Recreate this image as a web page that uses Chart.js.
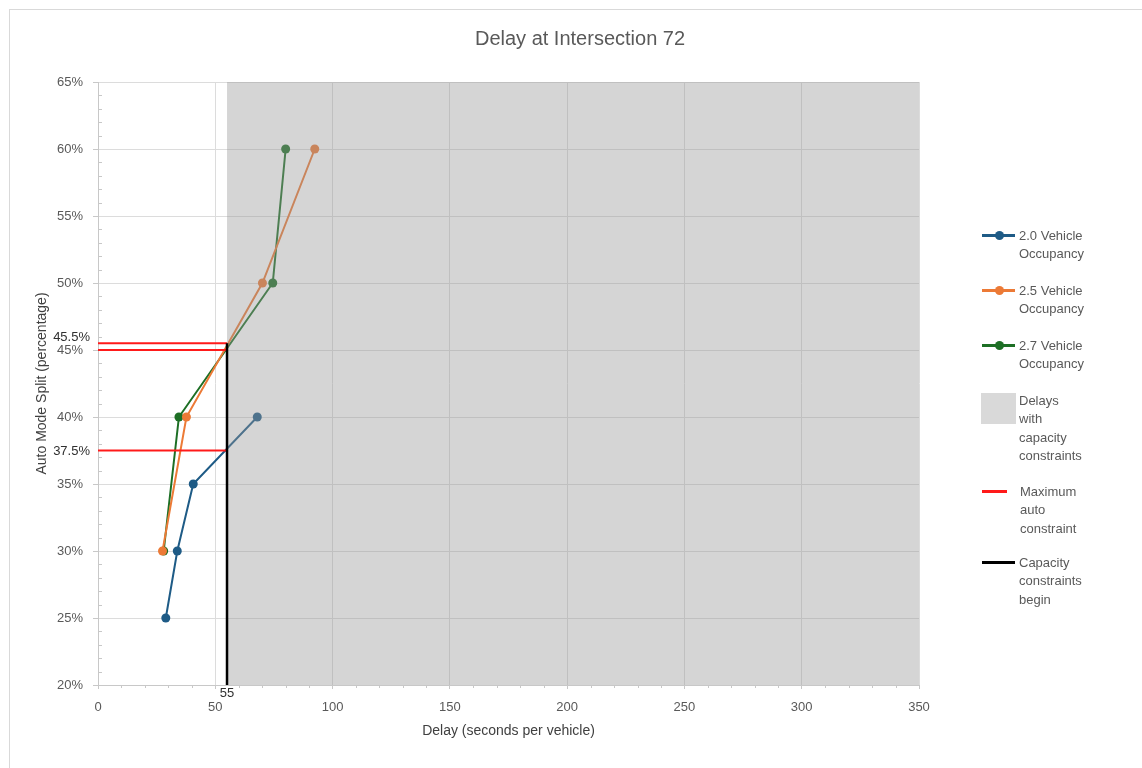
<!DOCTYPE html>
<html>
<head>
<meta charset="utf-8">
<script src="https://cdn.jsdelivr.net/npm/chart.js@4/dist/chart.umd.min.js"></script>
<style>
  html, body { margin: 0; padding: 0; background: #fff; }
  #wrap { position: relative; width: 1142px; height: 768px; overflow: hidden; font-family: "Liberation Sans", Arial, sans-serif; }
  #frame { position: absolute; left: 9px; top: 9px; width: 1140px; height: 765px; border: 1px solid #d9d9d9; box-sizing: border-box; }
  #title { position: absolute; left: 0; width: 1160px; top: 25px; text-align: center; font-size: 20px; line-height: 26px; color: #595959; }
  canvas { position: absolute; left: 0; top: 0; }
  .lg { position: absolute; }
  .lgt { position: absolute; font-size: 13px; line-height: 18.5px; color: #595959; }
</style>
</head>
<body>
<div id="wrap">
  <div id="frame"></div>
  <canvas id="c" width="1142" height="768"></canvas>
  <div id="title">Delay at Intersection 72</div>
  <div id="legend"></div>
</div>
<script>
// ---- data ----
const seriesNames = ["2.0 Vehicle Occupancy", "2.5 Vehicle Occupancy", "2.7 Vehicle Occupancy"];
const delay20 = [28.9, 33.8, 40.6, 67.9];
const split20 = [25, 30, 35, 40];
const delay25 = [27.5, 37.7, 70.1, 92.4];
const split25 = [30, 40, 50, 60];
const delay27 = [28.0, 34.5, 74.5, 80.0];
const split27 = [30, 40, 50, 60];
const constraintSplits = [45.5, 45, 37.5];
const constraintLabels = ["45.5%", "", "37.5%"];
const capacityDelay = 55;
const capacityLabel = "55";
const shadeRange = [55, 350];
const xRange = [0, 350];
const yRange = [20, 65];

const colors = ["#1e5b86", "#ec7a36", "#1d6f25"];
const shadeColor = "rgba(150,150,150,0.4)";

function pts(xs, ys) { return xs.map((x, i) => ({ x: x, y: ys[i] })); }

const datasets = [];
[[delay20, split20], [delay25, split25], [delay27, split27]].forEach((s, i) => {
  datasets.push({
    label: seriesNames[i], data: pts(s[0], s[1]),
    borderColor: colors[i], backgroundColor: colors[i],
    borderWidth: 2, pointRadius: 4.5, pointHoverRadius: 4.5, pointBorderWidth: 0,
    fill: false, order: 3
  });
});
datasets.push({
  label: "Delays with capacity constraints",
  data: [{ x: shadeRange[0], y: yRange[1] }, { x: shadeRange[1], y: yRange[1] }],
  borderWidth: 0, pointRadius: 0, backgroundColor: shadeColor, borderColor: "rgba(0,0,0,0)",
  fill: "start", order: 2
});
constraintSplits.forEach(v => {
  datasets.push({
    label: "Maximum auto constraint",
    data: [{ x: xRange[0], y: v }, { x: capacityDelay, y: v }],
    borderColor: "#ff1a1a", borderWidth: 2, pointRadius: 0, fill: false, order: 1
  });
});
datasets.push({
  label: "Capacity constraints begin",
  data: [{ x: capacityDelay, y: constraintSplits[0] }, { x: capacityDelay, y: yRange[0] }],
  borderColor: "#000000", borderWidth: 2.5, pointRadius: 0, fill: false, order: 0
});

const extras = {
  id: "extras",
  afterDraw(chart) {
    const ctx = chart.ctx, xs = chart.scales.x, ys = chart.scales.y;
    const area = chart.chartArea;
    ctx.save();
    ctx.strokeStyle = "#c8c8c8";
    ctx.lineWidth = 1;
    // minor ticks on y (inside)
    for (let v = yRange[0]; v <= yRange[1]; v += 1) {
      if (v % 5 === 0) continue;
      const y = Math.round(ys.getPixelForValue(v)) + 0.5;
      ctx.beginPath(); ctx.moveTo(area.left, y); ctx.lineTo(area.left + 4, y); ctx.stroke();
    }
    // minor ticks on x (outside)
    for (let v = xRange[0]; v <= xRange[1]; v += 10) {
      if (v % 50 === 0) continue;
      const x = Math.round(xs.getPixelForValue(v)) + 0.5;
      ctx.beginPath(); ctx.moveTo(x, area.bottom); ctx.lineTo(x, area.bottom + 3); ctx.stroke();
    }
    // constraint labels
    ctx.fillStyle = "#303030";
    ctx.font = '13px "Liberation Sans", Arial, sans-serif';
    ctx.textAlign = "right"; ctx.textBaseline = "middle";
    constraintSplits.forEach((v, i) => {
      if (!constraintLabels[i]) return;
      let y = ys.getPixelForValue(v);
      if (i === 0) y -= 7;
      ctx.fillText(constraintLabels[i], 90, y + 1);
    });
    ctx.textAlign = "center";
    ctx.fillText(capacityLabel, xs.getPixelForValue(capacityDelay), area.bottom + 8);
    ctx.restore();
  }
};

new Chart(document.getElementById("c"), {
  type: "line",
  data: { datasets: datasets },
  options: {
    responsive: false, animation: false, events: [],
    layout: { padding: { top: 82, left: 10, right: 223, bottom: 20 } },
    plugins: { legend: { display: false }, title: { display: false }, tooltip: { enabled: false } },
    scales: {
      x: {
        type: "linear", min: xRange[0], max: xRange[1],
        ticks: { stepSize: 50, color: "#595959", font: { size: 13, family: '"Liberation Sans", Arial, sans-serif' }, padding: 11, maxRotation: 0 },
        grid: { color: "#dcdcdc", tickColor: "#c8c8c8", tickLength: 4, lineWidth: 1 },
        border: { color: "#c8c8c8" },
        title: { display: true, text: "Delay (seconds per vehicle)", color: "#404040", font: { size: 14, family: '"Liberation Sans", Arial, sans-serif' }, padding: { top: 0, bottom: 8 } },
        afterFit(s) { s.height = 63; }
      },
      y: {
        type: "linear", min: yRange[0], max: yRange[1],
        ticks: { stepSize: 5, color: "#595959", font: { size: 13, family: '"Liberation Sans", Arial, sans-serif' }, padding: 10, callback: v => v + "%" },
        grid: { color: "#dcdcdc", tickColor: "#c8c8c8", tickLength: 5, lineWidth: 1 },
        border: { color: "#c8c8c8" },
        title: { display: true, text: "Auto Mode Split (percentage)", color: "#404040", font: { size: 14, family: '"Liberation Sans", Arial, sans-serif' }, padding: { top: 23.5, bottom: 0 } },
        afterFit(s) { s.width = 88; }
      }
    }
  },
  plugins: [extras]
});

// ---- legend (HTML) ----
const legendItems = [
  { type: "series", color: colors[0], y: 235, lines: ["2.0 Vehicle", "Occupancy"] },
  { type: "series", color: colors[1], y: 290, lines: ["2.5 Vehicle", "Occupancy"] },
  { type: "series", color: colors[2], y: 345, lines: ["2.7 Vehicle", "Occupancy"] },
  { type: "box", color: "#d9d9d9", y: 400, lines: ["Delays", "with", "capacity", "constraints"] },
  { type: "short", color: "#ff1a1a", y: 491, lines: ["Maximum", "auto", "constraint"] },
  { type: "line", color: "#000000", y: 562, lines: ["Capacity", "constraints", "begin"] }
];
const lg = document.getElementById("legend");
legendItems.forEach(it => {
  let h = "";
  if (it.type === "series" || it.type === "line") {
    h += `<div class="lg" style="left:982px;top:${it.y - 1}px;width:33px;height:2.5px;background:${it.color}"></div>`;
    if (it.type === "series") h += `<div class="lg" style="left:995px;top:${it.y - 4.5}px;width:9px;height:9px;border-radius:50%;background:${it.color}"></div>`;
  } else if (it.type === "short") {
    h += `<div class="lg" style="left:982px;top:${it.y - 1}px;width:25px;height:2.5px;background:${it.color}"></div>`;
  } else {
    h += `<div class="lg" style="left:981px;top:393px;width:35px;height:31px;background:${it.color}"></div>`;
  }
  const tx = it.type === "short" ? 1020 : 1019;
  h += `<div class="lgt" style="left:${tx}px;top:${it.y - 8.5}px">${it.lines.join("<br>")}</div>`;
  lg.insertAdjacentHTML("beforeend", h);
});
</script>
</body>
</html>
